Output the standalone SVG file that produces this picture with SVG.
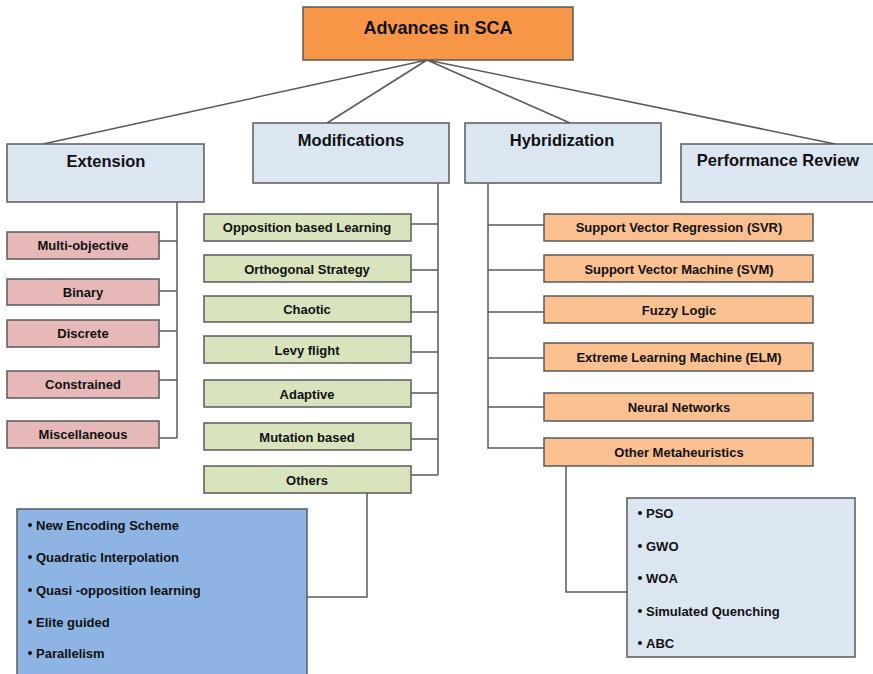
<svg xmlns="http://www.w3.org/2000/svg" width="873" height="674" viewBox="0 0 873 674">
<style>
  .box { stroke: #595959; stroke-width: 1.5; }
  .root { fill: #F79646; }
  .head { fill: #DCE6F1; }
  .pink { fill: #E6B9B8; }
  .green { fill: #D7E4BD; }
  .orange { fill: #FAC090; }
  .blue { fill: #8EB4E3; }
  .pale { fill: #DCE6F1; }
  text { font-family: "Liberation Sans", Arial, sans-serif; font-weight: bold; fill: #111; }
  .t-root { font-size: 18px; text-anchor: middle; }
  .t-head { font-size: 16.5px; text-anchor: middle; }
  .t-item { font-size: 13px; text-anchor: middle; }
  .t-list { font-size: 13px; }
  .wire { fill: none; stroke: #595959; stroke-width: 1.5; }
  .dot { fill: #111; }
</style>

<g id="connectors">
  <!-- root to the four categories -->
  <path class="wire" d="M427 60 L43 144 M427 60 L327 123 M427 60 L570 123 M427 60 L835 144"/>
  <!-- Extension branch -->
  <path class="wire" d="M177 202 V438 M159 241 H177 M159 291 H177 M159 331 H177 M159 380 H177 M159 438 H177"/>
  <!-- Modifications branch -->
  <path class="wire" d="M438 183 V475 M411 224 H438 M411 270 H438 M411 312 H438 M411 352 H438 M411 393 H438 M411 439 H438 M411 475 H438"/>
  <!-- Others to its list -->
  <path class="wire" d="M367 493 V597 H307"/>
  <!-- Hybridization branch -->
  <path class="wire" d="M488 183 V448 H544 M488 225 H544 M488 270 H544 M488 312 H544 M488 358 H544 M488 407 H544"/>
  <!-- Other Metaheuristics to its list -->
  <path class="wire" d="M566 466 V592 H627"/>
</g>

<g id="root">
  <rect class="box root" x="303" y="7" width="270" height="53"/>
  <text class="t-root" x="438" y="34">Advances in SCA</text>
</g>

<g id="extension">
  <rect class="box head" x="7" y="144" width="197" height="58"/>
  <text class="t-head" x="106" y="167">Extension</text>
</g>
<g id="modifications">
  <rect class="box head" x="253" y="123" width="196" height="60"/>
  <text class="t-head" x="351" y="146">Modifications</text>
</g>
<g id="hybridization">
  <rect class="box head" x="465" y="123" width="196" height="60"/>
  <text class="t-head" x="562" y="146">Hybridization</text>
</g>
<g id="performance-review">
  <rect class="box head" x="681" y="144" width="196" height="58"/>
  <text class="t-head" x="778" y="166">Performance Review</text>
</g>

<!-- Extension items -->
<g id="multi-objective">
  <rect class="box pink" x="7" y="232" width="152" height="27"/>
  <text class="t-item" x="83" y="250">Multi-objective</text>
</g>
<g id="binary">
  <rect class="box pink" x="7" y="279" width="152" height="26"/>
  <text class="t-item" x="83" y="297">Binary</text>
</g>
<g id="discrete">
  <rect class="box pink" x="7" y="320" width="152" height="27"/>
  <text class="t-item" x="83" y="338">Discrete</text>
</g>
<g id="constrained">
  <rect class="box pink" x="7" y="371" width="152" height="27"/>
  <text class="t-item" x="83" y="389">Constrained</text>
</g>
<g id="miscellaneous">
  <rect class="box pink" x="7" y="421" width="152" height="27"/>
  <text class="t-item" x="83" y="439">Miscellaneous</text>
</g>

<!-- Modifications items -->
<g id="opposition">
  <rect class="box green" x="204" y="214" width="207" height="27"/>
  <text class="t-item" x="307" y="232">Opposition based Learning</text>
</g>
<g id="orthogonal">
  <rect class="box green" x="204" y="255" width="207" height="27"/>
  <text class="t-item" x="307" y="274">Orthogonal  Strategy</text>
</g>
<g id="chaotic">
  <rect class="box green" x="204" y="296" width="207" height="26"/>
  <text class="t-item" x="307" y="314">Chaotic</text>
</g>
<g id="levy">
  <rect class="box green" x="204" y="336" width="207" height="27"/>
  <text class="t-item" x="307" y="355">Levy flight</text>
</g>
<g id="adaptive">
  <rect class="box green" x="204" y="380" width="207" height="27"/>
  <text class="t-item" x="307" y="399">Adaptive</text>
</g>
<g id="mutation">
  <rect class="box green" x="204" y="423" width="207" height="27"/>
  <text class="t-item" x="307" y="442">Mutation based</text>
</g>
<g id="others">
  <rect class="box green" x="204" y="466" width="207" height="27"/>
  <text class="t-item" x="307" y="485">Others</text>
</g>

<g id="others-list">
  <rect class="box blue" x="17" y="509" width="290" height="175"/>
  <circle class="dot" cx="30" cy="525" r="2"/>
  <text class="t-list" x="36" y="530">New Encoding Scheme</text>
  <circle class="dot" cx="30" cy="557" r="2"/>
  <text class="t-list" x="36" y="562">Quadratic  Interpolation</text>
  <circle class="dot" cx="30" cy="590" r="2"/>
  <text class="t-list" x="36" y="595">Quasi -opposition learning</text>
  <circle class="dot" cx="30" cy="622" r="2"/>
  <text class="t-list" x="36" y="627">Elite guided</text>
  <circle class="dot" cx="30" cy="653" r="2"/>
  <text class="t-list" x="36" y="658">Parallelism</text>
</g>

<!-- Hybridization items -->
<g id="svr">
  <rect class="box orange" x="544" y="214" width="269" height="27"/>
  <text class="t-item" x="679" y="232">Support Vector Regression (SVR)</text>
</g>
<g id="svm">
  <rect class="box orange" x="544" y="255" width="269" height="27"/>
  <text class="t-item" x="679" y="274">Support Vector Machine (SVM)</text>
</g>
<g id="fuzzy">
  <rect class="box orange" x="544" y="296" width="269" height="27"/>
  <text class="t-item" x="679" y="315">Fuzzy Logic</text>
</g>
<g id="elm">
  <rect class="box orange" x="544" y="343" width="269" height="28"/>
  <text class="t-item" x="679" y="362">Extreme Learning Machine (ELM)</text>
</g>
<g id="neural">
  <rect class="box orange" x="544" y="393" width="269" height="28"/>
  <text class="t-item" x="679" y="412">Neural Networks</text>
</g>
<g id="other-meta">
  <rect class="box orange" x="544" y="438" width="269" height="28"/>
  <text class="t-item" x="679" y="457">Other  Metaheuristics</text>
</g>

<g id="meta-list">
  <rect class="box pale" x="627" y="498" width="228" height="159"/>
  <circle class="dot" cx="640" cy="513" r="2"/>
  <text class="t-list" x="646" y="518">PSO</text>
  <circle class="dot" cx="640" cy="546" r="2"/>
  <text class="t-list" x="646" y="551">GWO</text>
  <circle class="dot" cx="640" cy="578" r="2"/>
  <text class="t-list" x="646" y="583">WOA</text>
  <circle class="dot" cx="640" cy="611" r="2"/>
  <text class="t-list" x="646" y="616">Simulated Quenching</text>
  <circle class="dot" cx="640" cy="643" r="2"/>
  <text class="t-list" x="646" y="648">ABC</text>
</g>
</svg>
